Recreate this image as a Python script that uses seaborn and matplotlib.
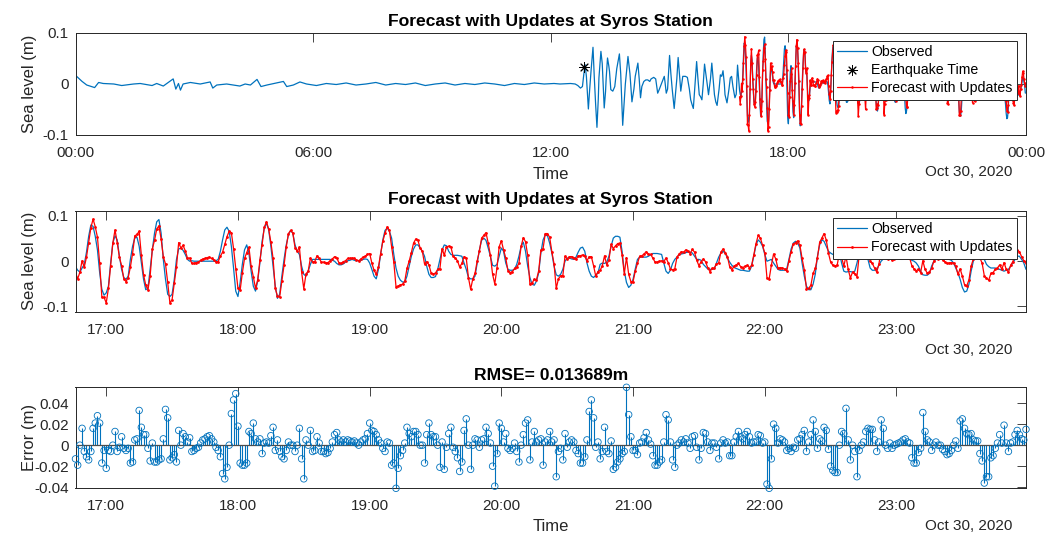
import numpy as np
import matplotlib
matplotlib.use("Agg")
import matplotlib.pyplot as plt
import seaborn as sns

# ---------------- data ----------------
station_title = "Forecast with Updates at Syros Station"
rmse_text = "RMSE= 0.013689m"
date_text = "Oct 30, 2020"

# quiet sea before the tsunami (minute of day, sea level in mm)
calm_min = [0, 10, 17, 29, 35, 42, 58, 70, 88, 98,
            116, 123, 133, 148, 152, 156, 159, 163, 174, 189,
            204, 208, 214, 229, 239, 249, 257, 265, 275, 281,
            290, 315, 320, 330, 340, 350, 365, 380, 395, 410,
            425, 440, 455, 470, 485, 500, 515, 530, 545, 560,
            575, 590, 605, 620, 635, 650, 665, 680, 695, 710, 725]
calm_mm = [17, 5, -2, -7, 3, 1, 0, -3, 0, 1,
           -3, 1, -4, 10, -10, 1, -12, 0, 3, 0,
           4, -8, -2, 0, -2, -4, 0, -2, 9, -5,
           -2, 5, -5, -2, 4, 0, -3, 1, -1, 2,
           -2, 0, 3, -2, 1, -1, 2, -3, 0, 2,
           -2, 1, -1, 2, 0, -3, 1, -1, 2, 0, 1]

# first waves, up to the start of the forecast (minute of day, mm)
arrival_min = [734, 750, 757, 761, 765, 768, 770, 772, 774, 777, 779, 781, 784, 786, 788,
               790, 792, 793, 796, 798, 799, 801, 803, 804, 806, 808, 809, 811, 814, 817,
               820, 824, 826, 829, 831, 833, 837, 840, 843, 846, 848, 852, 854, 856, 858,
               861, 864, 867, 870, 872, 876, 879, 882, 884, 886, 889, 892, 893, 895, 897,
               900, 902, 904, 907, 909, 911, 913, 915, 917, 920, 922, 924, 927, 930, 932,
               934, 936, 938, 941, 943, 945, 947, 949, 951, 953, 955, 957, 959, 962, 964,
               966, 968, 970, 972, 975, 977, 979, 981, 983, 984, 987, 990, 992, 994, 996,
               999, 1001, 1003, 1005]
arrival_mm = [0, 1, 0, -3, -8, -5, 18, 38, 15, -49, -10, 25, 72, 12, -40,
              -85, -30, 12, 64, 40, 12, -47, -15, 12, 51, 35, 25, -11, -14, -5,
              30, 59, 20, -81, -40, 0, 54, 20, -35, -10, 15, 41, 10, -27, -5,
              5, 8, 8, 5, 10, 13, 10, -18, -12, -5, 5, 15, 5, -18, -10,
              56, 20, -10, -48, -20, 10, 52, 20, -14, 15, 15, 15, 13, -10, -31,
              -40, -48, -10, 44, 10, -21, -25, -31, 0, 39, 20, 0, -21, 10, 41,
              10, -21, -35, -42, -10, 18, 15, 26, 0, -21, -37, -10, 12, 15, -5,
              -27, -20, 37, 5]

# one-minute record from 16:46 onwards (mm)
record_start_min = 16 * 60 + 46
observed_mm = [
    -12, -20, -24, -15, -7, 20, 55, 80, 77, 55,
    25, -25, -62, -75, -70, -55, -4, 40, 56, 47,
    11, -18, -36, -40, -33, 4, 33, 51, 53, 33,
    -4, -40, -63, -60, -18, 25, 62, 87, 92, 62,
    4, -40, -73, -78, -73, -40, 4, 27, 29, 24,
    15, 4, 0, 1, 0, 0, 0, 0, 0, 0,
    0, 0, 0, 0, 1, 4, 22, 47, 69, 75,
    66, 33, -15, -66, -78, -47, -7, 25, 36, 18,
    -22, -55, -66, -44, -4, 44, 73, 84, 69, 33,
    -11, -55, -82, -73, -33, 4, 36, 58, 68, 62,
    36, 22, 15, -11, -29, -33, -22, -7, 4, 4,
    4, 4, 4, 4, 4, 4, 4, 2, 0, -5,
    -8, -8, -6, -2, 1, 2, 4, 2, 1, 1,
    2, 4, 5, 4, -4, -18, -33, -39, -18, 15,
    47, 68, 73, 66, 51, 15, -15, -33, -42, -46,
    -46, -33, -11, 11, 27, 36, 36, 29, 22, 11,
    -11, -29, -36, -36, -34, -18, 4, 25, 36, 34,
    22, 15, 13, 13, 13, 12, 11, -4, -18, -36,
    -39, -39, -33, -4, 25, 46, 51, 46, 29, 11,
    -9, -11, -7, 11, 29, 22, -4, -18, -20, -20,
    -18, -7, 11, 33, 42, 22, -11, -36, -51, -53,
    -44, -26, 18, 47, 58, 56, 40, 18, -11, -30,
    -33, -29, -18, 0, 7, 7, 5, 4, 9, 20,
    29, 31, 22, -4, -22, -33, -36, -31, -26, -7,
    -4, -5, -2, 11, 33, 51, 55, 55, 53, 22,
    -22, -47, -58, -53, -40, -17, 4, 9, 9, 9,
    9, 11, 14, 17, 17, 17, 16, 15, -4, -22,
    -27, -20, -5, 4, 9, 14, 16, 17, 19, 20,
    20, 18, 11, 4, 4, 2, -7, -12, -17, -18,
    -18, -17, -4, 9, 18, 22, 17, 7, -2, -9,
    -14, -16, -18, -20, -20, -21, -22, -22, -11, 11,
    36, 47, 42, 33, 15, 0, 2, 4, -4, -11,
    -18, -20, -20, -20, -17, 4, 27, 40, 44, 40,
    29, -4, -33, -55, -63, -63, -51, -29, 11, 36,
    47, 44, 33, 22, 18, 15, 15, 18, 18, -4,
    -22, -24, -23, -23, -24, -22, -4, 18, 22, 18,
    11, 4, -15, -20, -20, -18, -9, 0, 5, 7,
    7, 5, 5, 5, 5, 5, 4, 4, 5, 5,
    5, 2, 0, -4, -11, -22, -30, -31, -31, -27,
    -11, 0, 4, 5, 7, 7, 5, 4, 4, 2,
    -4, -15, -26, -40, -58, -68, -66, -51, -22, 0,
    11, 15, 15, 11, 4, -7, -12, -15, -15, -15,
    -17, -18, -20, -22, -20, -18, -11, -4, 4, 11,
    11, 4, -4, -18]

# forecast minus observed, same minutes (mm)
error_mm = [
    -13, -19, 0, 16, -6, -11, -14, -6, 16, 21,
    28, 21, -17, -5, -22, -5, -6, 0, 13, -6,
    -2, 8, -3, -5, -3, -17, -16, 5, 6, 33,
    17, 10, 10, -3, -15, 2, -16, -16, -14, -13,
    6, 34, 26, -14, -12, -9, -16, 14, 0, 11,
    8, 3, 7, -6, -5, -3, -2, 2, 5, 6,
    8, 9, 6, 3, -2, -5, -11, -27, -32, -21,
    0, 30, 43, 49, 18, -17, -19, -19, -17, 13,
    11, 21, 6, 3, 6, -8, 2, 3, 2, 9,
    17, -5, 5, -6, -11, -13, -5, 3, 0, 0,
    -6, 0, 16, -13, -32, 5, 0, 14, -6, -5,
    8, 2, -6, -6, -8, -7, -3, 3, 10, 12,
    5, 3, 5, 3, 5, 4, 3, 4, 2, 0,
    3, 5, 6, 11, 21, 14, 13, 10, 5, 2,
    -3, -6, 3, 2, -19, -17, -41, -22, -10, -5,
    2, 17, 11, 8, 13, 13, 10, 0, 0, -17,
    10, 21, 10, 8, 8, 0, -21, 3, -23, -2,
    11, 17, -2, -6, -12, -25, -16, 14, 25, 0,
    -23, 0, 6, 5, -2, 5, 6, 17, 11, 2,
    -20, -39, -8, 21, 16, 3, 11, -3, -5, -3,
    2, -6, -16, 0, 10, 21, 24, -14, 3, 13,
    3, 5, 6, -19, 3, 5, 13, 3, 5, -30,
    -6, -3, -14, 11, -2, 3, 5, 3, -5, -8,
    -17, -17, -11, 5, 32, 43, 26, -2, 3, -13,
    -6, 17, -6, -8, 4, -23, -21, -16, -13, -8,
    -6, 55, 29, 8, -5, -5, -9, 2, 3, 7,
    12, 5, 1, -10, -19, -19, -16, -14, 3, 29,
    24, 3, -14, -21, 0, 2, 5, 3, 6, 2,
    -3, 8, 9, -2, -14, -3, 12, 11, 3, -5,
    2, 2, -2, -13, 2, 5, 2, 3, -10, -10,
    3, 8, 13, 8, 6, 10, 13, 8, 2, 3,
    3, 10, 9, 2, 3, -37, -41, -13, 20, 16,
    2, 6, 5, 3, -5, -3, -6, -2, -3, 5,
    6, 10, 14, -6, 3, 10, 24, 13, -3, 6,
    4, 17, 14, -4, -20, -24, -26, -26, 0, 13,
    11, 35, 5, -14, 0, -6, -30, -5, 0, 3,
    13, 16, 15, 15, 5, -6, 3, 24, 16, 0,
    -3, 2, -3, 0, 1, 2, 3, 5, 6, 3,
    2, -12, -17, -17, -7, -3, 31, 13, 5, 3,
    -5, 0, 3, 0, 0, -4, -6, -9, -8, -5,
    0, 4, -3, 23, 25, 16, 11, 10, 11, 5,
    4, 4, -8, -15, -36, -30, -30, -12, -10, -3,
    2, 10, 2, 19, 2, -6, 2, 3, 10, 14,
    10, 6, 5, 15]

quake_min = 12 * 60 + 51
quake_level = 0.034

day_ticks = [0, 6, 12, 18, 24]
day_tick_labels = ["00:00", "06:00", "12:00", "18:00", "00:00"]
hour_ticks = [17, 18, 19, 20, 21, 22, 23]
hour_tick_labels = ["17:00", "18:00", "19:00", "20:00", "21:00", "22:00", "23:00"]
level_ticks = [-0.1, 0, 0.1]
level_tick_labels = ["-0.1", "0", "0.1"]
error_ticks = [-0.04, -0.02, 0, 0.02, 0.04]
error_tick_labels = ["-0.04", "-0.02", "0", "0.02", "0.04"]

# ---------------- derived series ----------------
rec_h = (record_start_min + np.arange(len(observed_mm))) / 60.0
obs = np.array(observed_mm) / 1000.0
err = np.array(error_mm) / 1000.0
fcst = obs + err

day_h = np.concatenate([np.array(calm_min) / 60.0, np.array(arrival_min) / 60.0, rec_h])
day_obs = np.concatenate([np.array(calm_mm) / 1000.0, np.array(arrival_mm) / 1000.0, obs])

# ---------------- styling ----------------
BLUE = "#0072BD"
RED = "#FF0000"
INK = "#262626"

sns.set_theme(style="white")
plt.rcParams["font.family"] = ["Liberation Sans", "DejaVu Sans"]
plt.rcParams["axes.edgecolor"] = INK
plt.rcParams["axes.linewidth"] = 0.7

fig = plt.figure(figsize=(10.61, 5.35), dpi=100)
W, H = 1061.0, 535.0
left, width = 75.5 / W, 950.5 / W
ax1 = fig.add_axes([left, 1 - 135.0 / H, width, 102.0 / H])
ax2 = fig.add_axes([left, 1 - 311.7 / H, width, 101.0 / H])
ax3 = fig.add_axes([left, 1 - 488.3 / H, width, 101.0 / H])


def style_axes(ax, title, yticks, ylabels, xticks, xlabels):
    ax.set_xticks(xticks)
    ax.set_xticklabels(xlabels)
    ax.set_yticks(yticks)
    ax.set_yticklabels(ylabels)
    ax.tick_params(axis="both", which="both", direction="in", length=6.5, width=0.6,
                   color=INK, labelcolor=INK, labelsize=11, top=True, right=True)
    ax.tick_params(axis="x", pad=8)
    ax.tick_params(axis="y", pad=5)
    for sp in ax.spines.values():
        sp.set_visible(True)
        sp.set_color(INK)
        sp.set_linewidth(0.7)
    ax.grid(False)
    ax.set_title(title, fontweight="bold", fontsize=12.6, color="black", pad=5)


def add_legend(ax, handles, labels, y_anchor):
    leg = ax.legend(handles, labels, loc="upper right", bbox_to_anchor=(0.9905, y_anchor),
                    borderaxespad=0, fontsize=10.2, frameon=True, fancybox=False,
                    framealpha=1, edgecolor=INK, borderpad=0.3, labelspacing=0.3,
                    handlelength=2.1, handletextpad=0.3, numpoints=1)
    leg.get_frame().set_linewidth(0.7)
    for t in leg.get_texts():
        t.set_color("black")


# --- full day ---
sns.lineplot(x=day_h, y=day_obs, ax=ax1, color=BLUE, linewidth=0.9,
             estimator=None, sort=False)
h_obs = ax1.lines[-1]
sns.scatterplot(x=[quake_min / 60.0], y=[quake_level], ax=ax1, marker=(8, 2, 0),
                s=50, color="black", edgecolor="black", linewidth=0.7, zorder=4)
h_quake = ax1.collections[-1]
sns.lineplot(x=rec_h, y=fcst, ax=ax1, color=RED, linewidth=0.9, marker="o",
             markersize=1.8, markeredgewidth=0, estimator=None, sort=False)
h_fc = ax1.lines[-1]
ax1.set_xlim(0, 24)
ax1.set_ylim(-0.1, 0.1)
style_axes(ax1, station_title, level_ticks, level_tick_labels, day_ticks, day_tick_labels)
ax1.set_ylabel("Sea level (m)", fontsize=12, color=INK)
ax1.yaxis.set_label_coords(-0.041, 0.5)
ax1.set_xlabel("Time", fontsize=12, color=INK)
ax1.xaxis.set_label_coords(0.5, -0.31)
ax1.text(0.986, -0.365, date_text, transform=ax1.transAxes, ha="right", va="center",
         fontsize=11, color=INK)
add_legend(ax1, [h_obs, h_quake, h_fc],
           ["Observed", "Earthquake Time", "Forecast with Updates"], 0.925)

# --- forecast window ---
sns.lineplot(x=rec_h, y=obs, ax=ax2, color=BLUE, linewidth=0.9,
             estimator=None, sort=False)
m_obs = ax2.lines[-1]
sns.lineplot(x=rec_h, y=fcst, ax=ax2, color=RED, linewidth=0.9, marker="o",
             markersize=2.0, markeredgewidth=0, estimator=None, sort=False)
m_fc = ax2.lines[-1]
ax2.set_xlim(rec_h[0], rec_h[-1])
ax2.set_ylim(-0.1115, 0.1115)
style_axes(ax2, station_title, level_ticks, level_tick_labels, hour_ticks, hour_tick_labels)
ax2.set_ylabel("Sea level (m)", fontsize=12, color=INK)
ax2.yaxis.set_label_coords(-0.041, 0.5)
ax2.set_xlabel("")
ax2.text(0.986, -0.38, date_text, transform=ax2.transAxes, ha="right", va="center",
         fontsize=11, color=INK)
add_legend(ax2, [m_obs, m_fc], ["Observed", "Forecast with Updates"], 0.928)

# --- forecast error ---
ax3.vlines(rec_h, 0, err, color=BLUE, linewidth=0.8, zorder=2)
sns.scatterplot(x=rec_h, y=err, ax=ax3, marker="o", s=22, zorder=3,
                facecolor="none", edgecolor=BLUE, linewidth=0.6, clip_on=False)
pts = ax3.collections[-1]
pts.set_facecolor("none")
pts.set_edgecolor(BLUE)
ax3.axhline(0, color="#4d4d4d", linewidth=0.9, zorder=2.5)
ax3.set_xlim(rec_h[0], rec_h[-1])
ax3.set_ylim(err.min(), err.max())
style_axes(ax3, rmse_text, error_ticks, error_tick_labels, hour_ticks, hour_tick_labels)
ax3.set_ylabel("Error (m)", fontsize=12, color=INK)
ax3.yaxis.set_label_coords(-0.041, 0.5)
ax3.set_xlabel("Time", fontsize=12, color=INK)
ax3.xaxis.set_label_coords(0.5, -0.30)
ax3.text(0.986, -0.375, date_text, transform=ax3.transAxes, ha="right", va="center",
         fontsize=11, color=INK)

fig.savefig("out.png", dpi=100)
